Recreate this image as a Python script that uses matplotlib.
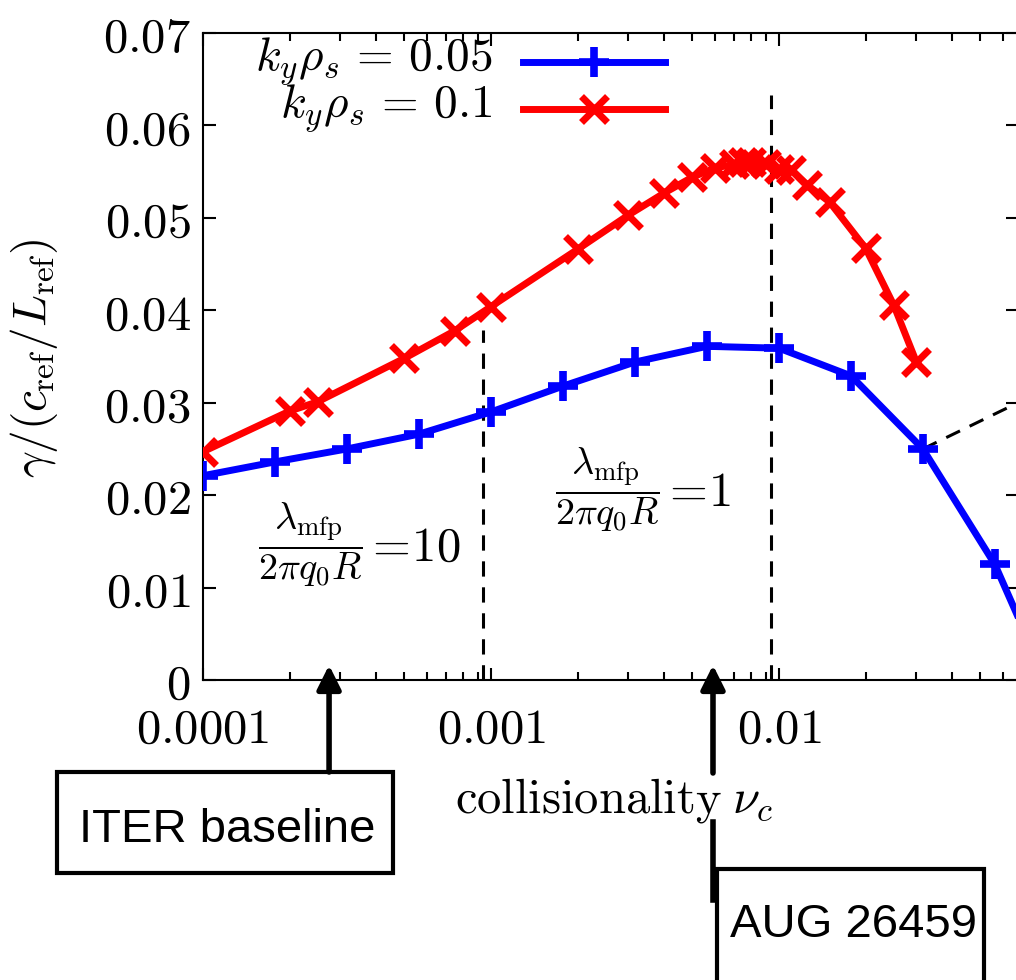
"""Growth rate vs collisionality, gnuplot-style figure."""

import matplotlib
matplotlib.use("Agg")
import matplotlib.pyplot as plt
from matplotlib.patches import Rectangle
from matplotlib.lines import Line2D
from matplotlib.ticker import FixedLocator, LogLocator, NullFormatter

plt.rcParams["mathtext.fontset"] = "cm"

# k_y rho_s = 0.05
blue_x = [1.0e-4, 1.78e-4, 3.16e-4, 5.62e-4, 1.0e-3, 1.78e-3, 3.16e-3,
          5.62e-3, 1.0e-2, 1.78e-2, 3.16e-2, 5.62e-2, 1.0e-1]
blue_y = [0.0221, 0.0236, 0.0250, 0.0266, 0.0290, 0.0318, 0.0344,
          0.0361, 0.0359, 0.0329, 0.0250, 0.0125, -0.0052]

# k_y rho_s = 0.1
red_x = [1.0e-4, 2.0e-4, 2.5e-4, 5.0e-4, 7.5e-4, 1.0e-3, 2.0e-3, 3.0e-3,
         4.0e-3, 5.0e-3, 6.0e-3, 7.0e-3, 7.5e-3, 8.0e-3, 9.0e-3, 1.0e-2,
         1.1e-2, 1.25e-2, 1.5e-2, 2.0e-2, 2.5e-2, 3.0e-2]
red_y = [0.0247, 0.0291, 0.0301, 0.0348, 0.0378, 0.0404, 0.0466, 0.0503,
         0.0527, 0.0544, 0.0554, 0.0558, 0.0560, 0.0560, 0.0558, 0.0553,
         0.0552, 0.0536, 0.0517, 0.0467, 0.0406, 0.0344]

x_ticks = [1e-4, 1e-3, 1e-2]
x_tick_labels = ["0.0001", "0.001", "0.01"]
y_ticks = [0.0, 0.01, 0.02, 0.03, 0.04, 0.05, 0.06, 0.07]
y_tick_labels = ["0", "0.01", "0.02", "0.03", "0.04", "0.05", "0.06", "0.07"]

# mean-free-path markers and the two reference cases
mfp_x = [0.00094, 0.0094]
mfp_top = [0.0379, 0.0633]
mfp_ratio = ["10", "1"]
iter_nu = 2.74e-4
aug_nu = 5.9e-3
aside_x = [3.16e-2, 0.0676]
aside_y = [0.0250, 0.0300]

W, H = 1016, 980
fig = plt.figure(figsize=(W / 100, H / 100), dpi=100)
ax = fig.add_axes([203 / W, 1 - 680 / H, (1018 - 203) / W, (680 - 33) / H])


def ax_x(px):
    return (px - 203) / 815


def ax_y(py):
    return (680 - py) / 647


ax.plot(blue_x, blue_y, color="#0000ff", lw=5, marker="+", ms=21, mew=5.5, zorder=4)
ax.plot(red_x, red_y, color="#ff0000", lw=5, marker="x", ms=19, mew=5, zorder=3)
ax.plot(aside_x, aside_y, color="black", lw=2.2, ls=(0, (5, 3.5)), zorder=2)
for xv, top in zip(mfp_x, mfp_top):
    ax.vlines(xv, 0, top, color="black", lw=2.2, linestyles=(0, (5, 3.5)), zorder=1)

ax.set_xscale("log")
ax.set_xlim(1e-4, 0.0676)
ax.set_ylim(0, 0.07)
ax.xaxis.set_major_locator(FixedLocator(x_ticks))
ax.set_xticklabels([f"${t}$" for t in x_tick_labels])
ax.xaxis.set_minor_locator(LogLocator(base=10, subs=range(2, 10), numticks=20))
ax.xaxis.set_minor_formatter(NullFormatter())
ax.set_yticks(y_ticks)
ax.set_yticklabels([f"${t}$" for t in y_tick_labels])
ax.tick_params(which="both", direction="in", top=True, right=True, width=1.5, labelsize=35)
ax.tick_params(which="major", length=9)
ax.tick_params(which="minor", length=5.5)
ax.tick_params(axis="x", pad=18)
ax.tick_params(axis="y", pad=9)
for spine in ax.spines.values():
    spine.set_linewidth(1.5)

ax.set_ylabel(r"$\gamma/(c_{\rm ref}/L_{\rm ref})$", fontsize=34)
ax.yaxis.set_label_coords(ax_x(60), ax_y(358))
fig.text(455 / W, 1 - 812 / H, r"$\mathrm{collisionality}\;\nu_c$", fontsize=35,
         ha="left", va="baseline")

# gnuplot-like key, text right aligned
for row_y, label, color, mk, ms, mew in [(62, r"$k_y\rho_s\,=\,0.05$", "#0000ff", "+", 21, 5.5),
                                         (109, r"$k_y\rho_s\,=\,0.1$", "#ff0000", "x", 19, 5)]:
    ya = ax_y(row_y)
    ax.text(ax_x(492), ya, label, transform=ax.transAxes, fontsize=34,
            ha="right", va="center")
    ax.add_line(Line2D([ax_x(523), ax_x(665)], [ya, ya], transform=ax.transAxes,
                       color=color, lw=5, clip_on=False))
    ax.add_line(Line2D([ax_x(594)], [ya], transform=ax.transAxes, color=color,
                       marker=mk, ms=ms, mew=mew, ls="none", clip_on=False))

# lambda_mfp / (2 pi q0 R) labels: fraction and "= n" as two texts
for frac_left, bar_y, ratio in [(258, 545, mfp_ratio[0]), (555, 490, mfp_ratio[1])]:
    ax.text(ax_x(frac_left), ax_y(bar_y), r"$\dfrac{\lambda_{\rm mfp}}{2\pi q_0 R}$",
            transform=ax.transAxes, fontsize=27.5, ha="left", va="center")
    ax.text(ax_x(frac_left + 106), ax_y(bar_y + 2), rf"$=\!{ratio}$",
            transform=ax.transAxes, fontsize=35, ha="left", va="center")

# arrows to the axis
trans = ax.get_xaxis_transform()
arrow = dict(arrowstyle="-|>", lw=4, color="black", shrinkA=0, shrinkB=0, mutation_scale=36)
ax.annotate("", xy=(iter_nu, 0.023), xytext=(iter_nu, ax_y(772)),
            xycoords=trans, textcoords=trans, arrowprops=arrow, annotation_clip=False)
ax.annotate("", xy=(aug_nu, 0.023), xytext=(aug_nu, ax_y(773)),
            xycoords=trans, textcoords=trans, arrowprops=arrow, annotation_clip=False)
ax.add_line(Line2D([aug_nu, aug_nu], [ax_y(822), ax_y(900)], transform=trans,
                   color="black", lw=4, clip_on=False))

# boxes
fig.add_artist(Rectangle((57 / W, 1 - 873 / H), (393 - 57) / W, (873 - 772) / H,
                         transform=fig.transFigure, fill=False, lw=3, ec="black"))
fig.text(227 / W, 1 - 830 / H, "ITER baseline", fontsize=34, family="Liberation Sans",
         ha="center", va="center")
fig.add_artist(Rectangle((717 / W, 1 - 990 / H), (984 - 717) / W, (990 - 869) / H,
                         transform=fig.transFigure, fill=False, lw=3, ec="black"))
fig.text(853 / W, 1 - 925 / H, "AUG 26459", fontsize=34, family="Liberation Sans",
         ha="center", va="center")

fig.savefig("out.png", dpi=100, facecolor="white")
